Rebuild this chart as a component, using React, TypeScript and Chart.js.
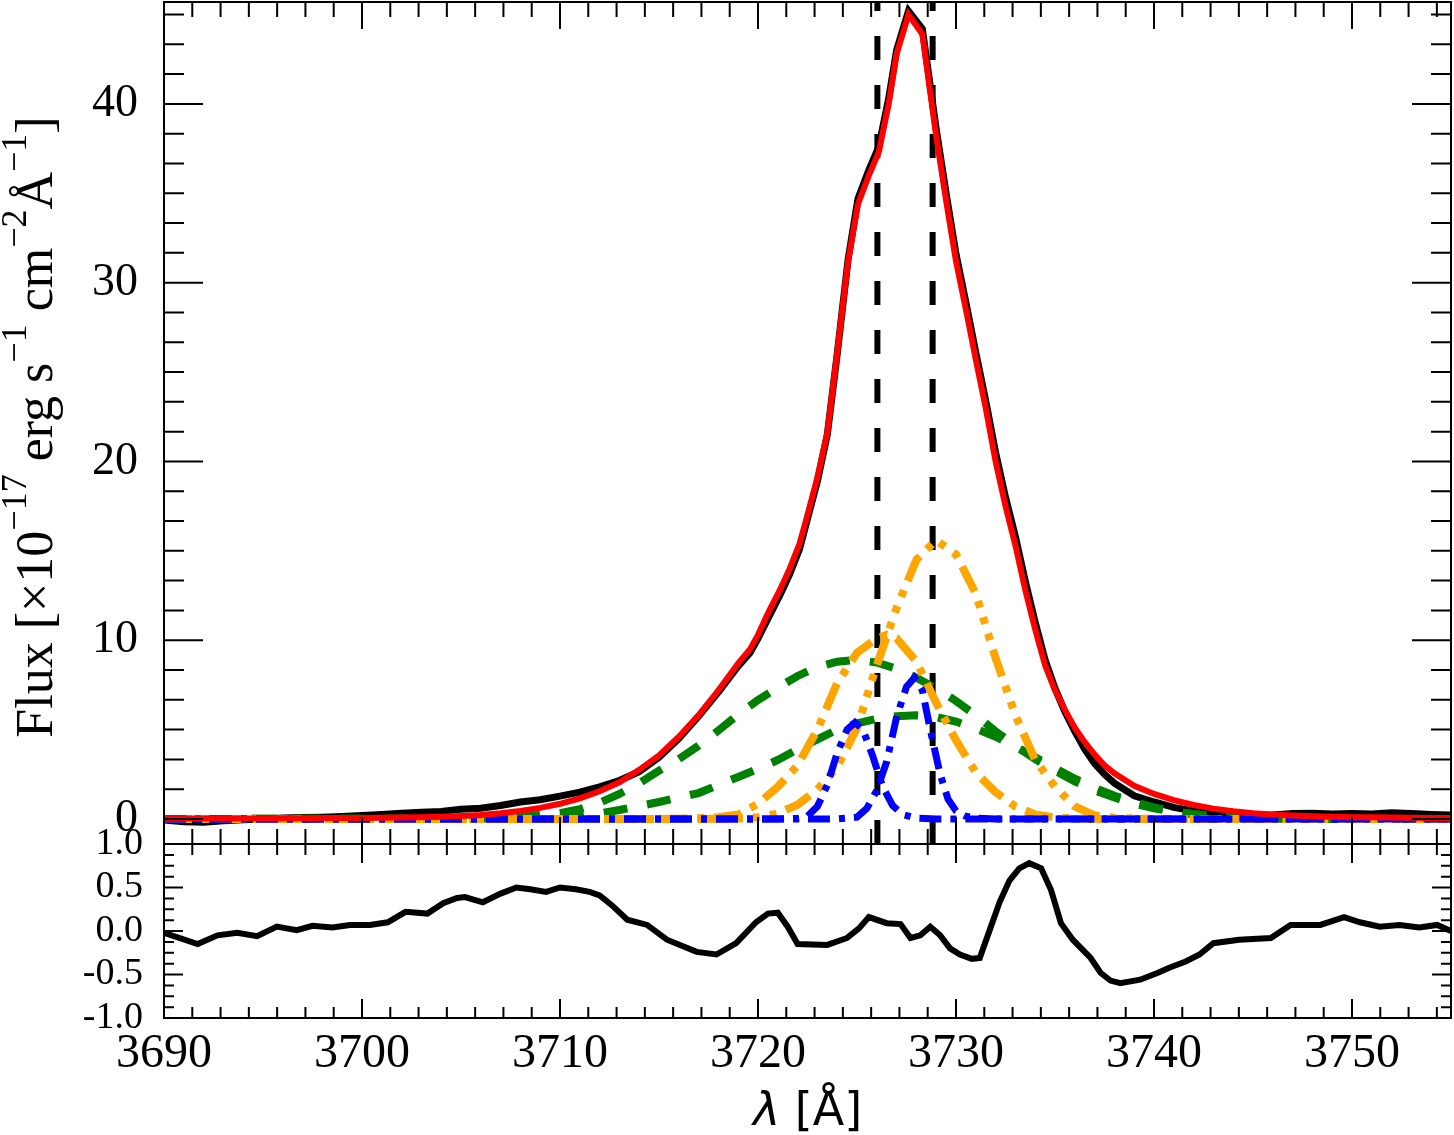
import React, { useEffect, useRef } from "react";
import Chart from "chart.js/auto";

const W = 1454;
const H = 1135;

// observed spectrum and total model, same wavelength grid
const lam = [
  3690, 3691, 3692, 3693, 3694, 3695, 3696, 3697, 3698, 3699, 3700, 3701, 3702, 3703, 3704,
  3705, 3706, 3707, 3708, 3709, 3710, 3711, 3712, 3713, 3714, 3715, 3716, 3717, 3718, 3719,
  3719.6, 3720, 3720.5, 3721.1, 3721.6, 3722.1, 3722.5, 3723, 3723.5, 3724, 3724.55, 3725.05,
  3725.6, 3726.1, 3726.6, 3727, 3727.6, 3728.3, 3729, 3729.5, 3730, 3730.5, 3731, 3731.5, 3732,
  3732.5, 3733, 3733.5, 3734, 3734.5, 3735, 3735.5, 3736, 3736.5, 3737, 3737.5, 3738,
  3739, 3740, 3741, 3742, 3743, 3744, 3745, 3746, 3747, 3748, 3749, 3750, 3751, 3752, 3753, 3754, 3755,
];
const fluxObs = [
  -0.05, -0.15, -0.18, -0.1, -0.05, 0.0, 0.05, 0.08, 0.1, 0.14, 0.2, 0.25, 0.32, 0.38, 0.42,
  0.55, 0.6, 0.75, 0.95, 1.08, 1.28, 1.5, 1.8, 2.15, 2.65, 3.45, 4.5, 5.75, 7.1, 8.55,
  9.3, 10.1, 11.2, 12.5, 13.7, 15.1, 16.8, 18.9, 21.5, 26.0, 31.3, 34.7,
  36.3, 37.6, 40.3, 43.0, 45.2, 44.2, 38.6, 35.0, 31.6, 28.9, 26.1, 23.4, 20.5,
  18.0, 15.8, 13.3, 11.0, 8.9, 7.3, 6.0, 4.9, 3.9, 3.1, 2.5, 2.0,
  1.3, 0.95, 0.65, 0.45, 0.3, 0.22, 0.2, 0.22, 0.3, 0.32, 0.28, 0.3, 0.28, 0.35, 0.3, 0.25, 0.22,
];
const fluxModel = [
  0.02, 0.02, 0.02, 0.03, 0.03, 0.03, 0.04, 0.04, 0.05, 0.05, 0.06, 0.07, 0.08, 0.1, 0.13,
  0.17, 0.22, 0.32, 0.45, 0.62, 0.85, 1.15, 1.55, 2.05, 2.75, 3.55, 4.6, 5.8, 7.2, 8.7,
  9.5, 10.3, 11.5, 12.8, 14.0, 15.4, 17.0, 19.1, 21.6, 26.1, 31.2, 34.4,
  36.0, 37.3, 40.0, 42.8, 45.0, 43.9, 38.2, 34.6, 31.2, 28.5, 25.7, 23.0, 20.0,
  17.5, 15.3, 12.8, 10.6, 8.6, 7.2, 6.1, 5.1, 4.3, 3.6, 3.0, 2.55,
  1.85, 1.4, 1.05, 0.78, 0.58, 0.43, 0.32, 0.25, 0.19, 0.15, 0.12, 0.1, 0.09, 0.08, 0.07, 0.06, 0.06,
];

// broad components (green)
const broadBlueLam = [
  3690, 3704, 3706, 3708, 3709, 3710, 3711, 3712, 3713, 3714, 3715, 3716, 3717, 3718, 3719, 3720,
  3721, 3722, 3723, 3724, 3725, 3726, 3727, 3728, 3729, 3730, 3731, 3732, 3733, 3734, 3735, 3736,
  3737, 3738, 3739, 3740, 3741, 3742, 3743, 3745, 3748, 3755,
];
const broadBlue = [
  0, 0.02, 0.06, 0.15, 0.22, 0.32, 0.55, 0.9, 1.4, 2.0, 2.7, 3.35, 4.1, 4.95, 5.85, 6.65,
  7.35, 8.0, 8.5, 8.8, 8.9, 8.75, 8.4, 7.9, 7.3, 6.6, 5.8, 4.9, 4.1, 3.35, 2.7, 2.1,
  1.6, 1.2, 0.85, 0.6, 0.4, 0.25, 0.15, 0.05, 0.01, 0,
];
const broadRedLam = [
  3690, 3706, 3708, 3710, 3711, 3712, 3713, 3714, 3715, 3716, 3717, 3718, 3719, 3720, 3721, 3722,
  3723, 3724, 3725, 3726, 3727, 3728, 3729, 3730, 3731, 3732, 3733, 3734, 3735, 3736, 3737, 3738,
  3739, 3740, 3741, 3742, 3743, 3744, 3746, 3749, 3755,
];
const broadRed = [
  0, 0.02, 0.05, 0.12, 0.2, 0.32, 0.5, 0.72, 0.95, 1.2, 1.45, 1.9, 2.35, 2.8, 3.3, 3.9,
  4.45, 5.0, 5.35, 5.6, 5.75, 5.8, 5.7, 5.45, 5.05, 4.6, 4.05, 3.45, 2.85, 2.25, 1.75, 1.3,
  0.95, 0.65, 0.42, 0.28, 0.17, 0.1, 0.03, 0, 0,
];

// intermediate components (orange)
const midBlueLam = [
  3690, 3715, 3717, 3718, 3719, 3720, 3721, 3722, 3723, 3724, 3725, 3726, 3726.5, 3727, 3728,
  3729, 3730, 3731, 3732, 3733, 3734, 3735, 3736, 3738, 3755,
];
const midBlue = [
  0, 0, 0.04, 0.1, 0.25, 0.85, 1.8, 3.0, 5.0, 7.6, 9.3, 10.1, 10.3, 10.1, 8.8,
  6.5, 4.4, 2.6, 1.5, 0.7, 0.25, 0.08, 0.02, 0, 0,
];
const midRedLam = [
  3690, 3717, 3719, 3720, 3721, 3722, 3723, 3724, 3725, 3726, 3727, 3728, 3729, 3730, 3731,
  3732, 3733, 3734, 3735, 3736, 3737, 3738, 3739, 3741, 3755,
];
const midRed = [
  0, 0, 0.03, 0.1, 0.3, 0.8, 1.65, 2.9, 5.1, 8.6, 11.8, 14.5, 15.6, 14.8, 12.6,
  9.0, 5.8, 3.3, 1.8, 0.7, 0.2, 0.06, 0.02, 0, 0,
];

// narrow components (blue)
const narrowBlueLam = [
  3690, 3721, 3722, 3722.5, 3723, 3723.5, 3724, 3724.5, 3724.9, 3725.3, 3725.8, 3726.3, 3726.8,
  3727.3, 3728, 3729, 3755,
];
const narrowBlue = [0, 0, 0.03, 0.15, 0.7, 1.9, 3.7, 5.0, 5.4, 5.0, 3.5, 1.8, 0.75, 0.25, 0.05, 0, 0];
const narrowRedLam = [
  3690, 3724, 3725, 3725.5, 3726, 3726.5, 3727, 3727.5, 3727.9, 3728.3, 3728.7, 3729.2, 3729.6,
  3730, 3730.5, 3731, 3732, 3755,
];
const narrowRed = [0, 0, 0.1, 0.6, 1.6, 3.2, 5.7, 7.4, 7.9, 7.2, 5.0, 2.5, 1.1, 0.45, 0.15, 0.04, 0, 0];

// rest wavelengths of the doublet
const restLines = [3726.03, 3728.82];

// residuals
const residLam = [
  3690, 3691.7, 3692.7, 3693.7, 3694.7, 3695.7, 3696.7, 3697.5, 3698.5, 3699.4, 3700.4, 3701.3,
  3702.2, 3703.3, 3704.1, 3704.8, 3705.2, 3706.1, 3707.0, 3707.8, 3708.5, 3709.3, 3710.0, 3710.8,
  3711.5, 3712.0, 3712.6, 3713.4, 3714.4, 3715.4, 3716.9, 3717.9, 3718.9, 3719.9, 3720.5, 3721.0,
  3721.5, 3722.0, 3723.5, 3724.5, 3725.1, 3725.6, 3726.5, 3727.2, 3727.7, 3728.2, 3728.7, 3729.2,
  3729.7, 3730.2, 3730.8, 3731.2, 3731.7, 3732.2, 3732.7, 3733.2, 3733.7, 3734.3, 3734.8, 3735.3,
  3735.9, 3736.8, 3737.3, 3737.8, 3738.3, 3739.3, 3740.2, 3740.8, 3741.6, 3742.3, 3743.0, 3744.3,
  3745.9, 3746.9, 3748.4, 3749.6, 3750.4, 3751.4, 3752.4, 3753.4, 3754.3, 3755.0,
];
const resid = [
  -0.02, -0.15, -0.05, -0.02, -0.06, 0.05, 0.01, 0.06, 0.04, 0.07, 0.07, 0.1,
  0.22, 0.2, 0.32, 0.38, 0.39, 0.33, 0.43, 0.5, 0.48, 0.45, 0.5, 0.48,
  0.45, 0.41, 0.3, 0.13, 0.07, -0.1, -0.24, -0.27, -0.14, 0.1, 0.2, 0.21,
  0.05, -0.15, -0.16, -0.08, 0.03, 0.16, 0.09, 0.08, -0.08, -0.05, 0.05, -0.05,
  -0.2, -0.27, -0.32, -0.31, 0.01, 0.33, 0.58, 0.72, 0.78, 0.72, 0.47, 0.09,
  -0.1, -0.31, -0.48, -0.57, -0.6, -0.56, -0.48, -0.42, -0.35, -0.27, -0.14, -0.1,
  -0.08, 0.07, 0.07, 0.16, 0.1, 0.05, 0.07, 0.04, 0.07, 0.0,
];

const xTickValues = [3690, 3700, 3710, 3720, 3730, 3740, 3750];
const xTickLabels = ["3690", "3700", "3710", "3720", "3730", "3740", "3750"];
const fluxTickValues = [0, 10, 20, 30, 40];
const fluxTickLabels = ["0", "10", "20", "30", "40"];
const residTickValues = [1, 0.5, 0, -0.5, -1];
const residTickLabels = ["1.0", "0.5", "0.0", "-0.5", "-1.0"];

const pts = (xs: number[], ys: number[]) => xs.map((x, i) => ({ x, y: ys[i] }));

type FrameSpec = {
  xMajor: number;
  xMinor: number;
  xMajorLen: number;
  xMinorLen: number;
  yMajor: number;
  yMinor: number;
  yMajorLen: number;
  yMinorLen: number;
  yTicks: number[];
  yLabels: string[];
  yFont: string;
  yGap: number;
  xLabels?: boolean;
  yTitle?: boolean;
  xTitle?: boolean;
};

const isMajor = (i: number, n: number) => ((i % n) + n) % n === 0;

const framePlugin = (spec: FrameSpec) => ({
  id: "frame",
  afterDatasetsDraw(chart: any) {
    const { ctx, chartArea: a } = chart;
    const xs = chart.scales.x;
    const ys = chart.scales.y;
    ctx.save();
    ctx.strokeStyle = "#000";
    ctx.lineWidth = 2;
    ctx.beginPath();
    const xStep = spec.xMajor / spec.xMinor;
    for (let i = Math.ceil(xs.min / xStep - 1e-6); i * xStep <= xs.max + 1e-6; i++) {
      const px = xs.getPixelForValue(i * xStep);
      const len = isMajor(i, spec.xMinor) ? spec.xMajorLen : spec.xMinorLen;
      ctx.moveTo(px, a.bottom);
      ctx.lineTo(px, a.bottom - len);
      ctx.moveTo(px, a.top);
      ctx.lineTo(px, a.top + len);
    }
    const yStep = spec.yMajor / spec.yMinor;
    for (let i = Math.ceil(ys.min / yStep - 1e-6); i * yStep <= ys.max + 1e-6; i++) {
      const py = ys.getPixelForValue(i * yStep);
      const len = isMajor(i, spec.yMinor) ? spec.yMajorLen : spec.yMinorLen;
      ctx.moveTo(a.left, py);
      ctx.lineTo(a.left + len, py);
      ctx.moveTo(a.right, py);
      ctx.lineTo(a.right - len, py);
    }
    ctx.stroke();
    ctx.strokeRect(a.left, a.top, a.right - a.left, a.bottom - a.top);
    ctx.restore();
  },
  afterDraw(chart: any) {
    const { ctx, chartArea: a } = chart;
    const xs = chart.scales.x;
    const ys = chart.scales.y;
    ctx.save();
    ctx.fillStyle = "#000";
    ctx.font = spec.yFont;
    ctx.textAlign = "right";
    ctx.textBaseline = "middle";
    spec.yTicks.forEach((v, i) => {
      ctx.fillText(spec.yLabels[i], a.left - spec.yGap, ys.getPixelForValue(v));
    });
    if (spec.xLabels) {
      ctx.font = '48px "Liberation Serif"';
      ctx.textAlign = "center";
      ctx.textBaseline = "alphabetic";
      xTickValues.forEach((v, i) => {
        ctx.fillText(xTickLabels[i], xs.getPixelForValue(v), a.bottom + 49);
      });
    }
    if (spec.xTitle) {
      const cx = (a.left + a.right) / 2;
      ctx.textAlign = "left";
      ctx.textBaseline = "alphabetic";
      ctx.font = 'italic 46px "DejaVu Sans"';
      const w1 = ctx.measureText("λ").width;
      ctx.font = '46px "DejaVu Sans"';
      const w2 = ctx.measureText(" [Å]").width;
      const x0 = cx - (w1 + w2) / 2;
      ctx.font = 'italic 46px "DejaVu Sans"';
      ctx.fillText("λ", x0, 1125);
      ctx.font = '46px "DejaVu Sans"';
      ctx.fillText(" [Å]", x0 + w1, 1125);
    }
    if (spec.yTitle) {
      const base = '52px "Liberation Serif"';
      const sup = '36px "Liberation Serif"';
      const parts: [string, boolean][] = [
        ["Flux [×10", false],
        ["−17", true],
        [" erg s", false],
        ["−1", true],
        [" cm", false],
        ["−2", true],
        ["Å", false],
        ["−1", true],
        ["]", false],
      ];
      let total = 0;
      const widths = parts.map(([t, s]) => {
        ctx.font = s ? sup : base;
        const w = ctx.measureText(t).width;
        total += w;
        return w;
      });
      ctx.translate(52, (a.top + a.bottom) / 2 + 4);
      ctx.rotate(-Math.PI / 2);
      ctx.textAlign = "left";
      ctx.textBaseline = "alphabetic";
      let x = -total / 2;
      parts.forEach(([t, s], i) => {
        ctx.font = s ? sup : base;
        ctx.fillText(t, x, s ? -26 : 0);
        x += widths[i];
      });
    }
    ctx.restore();
  },
});

const baseOptions = (yMin: number, yMax: number, padding: any) => ({
  responsive: false,
  animation: false as const,
  devicePixelRatio: 1,
  events: [],
  layout: { padding },
  plugins: { legend: { display: false }, tooltip: { enabled: false } },
  elements: { point: { radius: 0 }, line: { tension: 0 } },
  scales: {
    x: { type: "linear" as const, min: 3690, max: 3755, display: false },
    y: { type: "linear" as const, min: yMin, max: yMax, display: false },
  },
});

const App = () => {
  const topRef = useRef<HTMLCanvasElement>(null);
  const botRef = useRef<HTMLCanvasElement>(null);

  useEffect(() => {
    if (!topRef.current || !botRef.current) return;

    const line = (data: any[], color: string, width: number, dash: number[] = []) => ({
      data,
      borderColor: color,
      borderWidth: width,
      borderDash: dash,
      fill: false,
      pointRadius: 0,
    });

    const topChart = new Chart(topRef.current, {
      type: "line",
      data: {
        datasets: [
          line(pts(lam, fluxModel), "#ff0000", 6),
          line(pts(narrowBlueLam, narrowBlue), "#0000ff", 7, [22, 9, 6, 9]),
          line(pts(narrowRedLam, narrowRed), "#0000ff", 7, [22, 9, 6, 9]),
          line(pts(midBlueLam, midBlue), "#ffa500", 8, [28, 10, 7, 10]),
          line(pts(midRedLam, midRed), "#ffa500", 8, [28, 10, 7, 10, 7, 10, 7, 10]),
          line(pts(broadBlueLam, broadBlue), "#008000", 8, [24, 20]),
          line(pts(broadRedLam, broadRed), "#008000", 8, [24, 20]),
          line(pts(lam, fluxObs), "#000000", 7),
          ...restLines.map((l) =>
            line(
              [
                { x: l, y: -1.4 },
                { x: l, y: 45.7 },
              ],
              "#000000",
              6,
              [24, 25]
            )
          ),
        ],
      },
      options: baseOptions(-1.4, 45.7, { left: 164, right: 3, top: 2, bottom: H - 844 }) as any,
      plugins: [
        framePlugin({
          xMajor: 10,
          xMinor: 7,
          xMajorLen: 27,
          xMinorLen: 15,
          yMajor: 10,
          yMinor: 6,
          yMajorLen: 39,
          yMinorLen: 20,
          yTicks: fluxTickValues,
          yLabels: fluxTickLabels,
          yFont: '46px "Liberation Serif"',
          yGap: 26,
          yTitle: true,
        }),
      ],
    });

    const botChart = new Chart(botRef.current, {
      type: "line",
      data: {
        datasets: [line(pts(residLam, resid), "#000000", 6)],
      },
      options: baseOptions(-1, 1, { left: 164, right: 3, top: 844, bottom: H - 1018 }) as any,
      plugins: [
        framePlugin({
          xMajor: 10,
          xMinor: 7,
          xMajorLen: 19,
          xMinorLen: 11,
          yMajor: 0.5,
          yMinor: 4,
          yMajorLen: 19,
          yMinorLen: 10,
          yTicks: residTickValues,
          yLabels: residTickLabels,
          yFont: '38px "Liberation Serif"',
          yGap: 21,
          xLabels: true,
          xTitle: true,
        }),
      ],
    });

    return () => {
      topChart.destroy();
      botChart.destroy();
    };
  }, []);

  return (
    <div style={{ position: "absolute", left: 0, top: 0, width: W, height: H, background: "#fff" }}>
      <canvas ref={topRef} width={W} height={H} style={{ position: "absolute", left: 0, top: 0 }} />
      <canvas ref={botRef} width={W} height={H} style={{ position: "absolute", left: 0, top: 0 }} />
    </div>
  );
};

export default App;
